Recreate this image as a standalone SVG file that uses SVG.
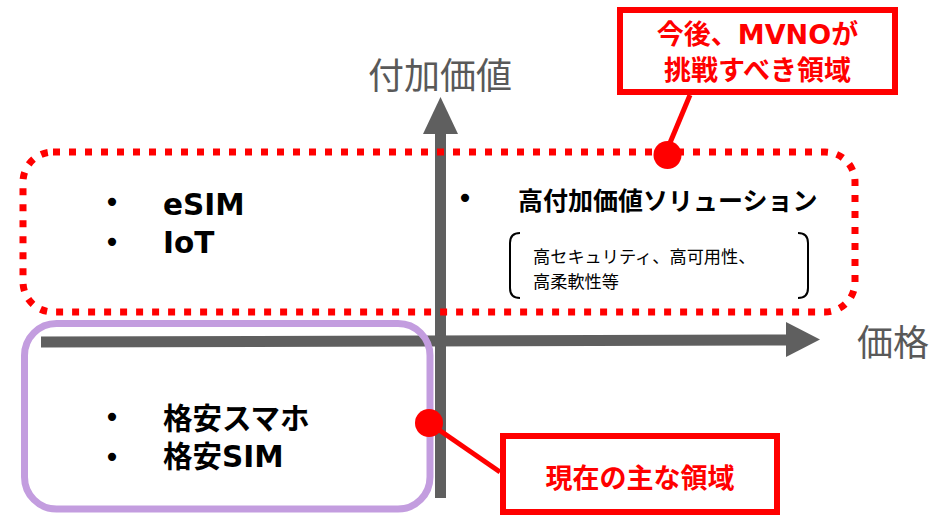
<svg xmlns="http://www.w3.org/2000/svg" width="942" height="516" viewBox="0 0 942 516">
<style>
.axis{stroke:#5f5f5f;stroke-width:11;fill:none}
.axlbl{font-family:"Noto Sans CJK JP","Noto Sans",sans-serif;font-size:36px;fill:#595959}
.bul{font-family:"DejaVu Sans","Noto Sans CJK JP",sans-serif;font-weight:bold;font-size:29.5px;fill:#000}
.dot{font-family:"DejaVu Sans",sans-serif;font-size:28px;fill:#000;text-anchor:middle}
.small{font-family:"Noto Sans CJK JP",sans-serif;font-size:17.2px;fill:#000}
.call{fill:#fff;stroke:#ff0000;stroke-width:6}
.calltxt{font-family:"DejaVu Sans","Noto Sans CJK JP",sans-serif;font-weight:bold;font-size:27px;fill:#ff0000;text-anchor:middle}
.lead{stroke:#ff0000;stroke-width:5;fill:none}
</style>
<rect width="942" height="516" fill="#fff"/>
<g id="axes">
<line class="axis" x1="440.5" y1="498" x2="440.5" y2="130"/>
<polygon points="440.5,97 423,134 458,134" fill="#5f5f5f"/>
<line class="axis" x1="41" y1="342" x2="790" y2="340"/>
<polygon points="820,339.5 786,322 786,357" fill="#5f5f5f"/>
<text class="axlbl" x="368" y="89">付加価値</text>
<text class="axlbl" x="857" y="356">価格</text>
</g>
<g id="current-area">
<rect x="24.5" y="323.5" width="405.5" height="185.5" rx="32" fill="none" stroke="#c39ddf" stroke-width="7"/>
<text class="dot" x="112" y="427">•</text>
<text class="bul" x="163" y="429">格安スマホ</text>
<text class="dot" x="112" y="467">•</text>
<text class="bul" x="163" y="467">格安SIM</text>
</g>
<g id="future-area">
<rect x="23" y="152" width="832" height="160" rx="30" fill="none" stroke="#ff0000" stroke-width="7" stroke-dasharray="7 9"/>
<text class="dot" x="112" y="212">•</text>
<text class="bul" x="163" y="215">eSIM</text>
<text class="dot" x="112" y="252">•</text>
<text class="bul" x="163" y="253">IoT</text>
<text class="dot" x="465" y="208">•</text>
<text class="bul" x="518" y="210" style="font-size:25px">高付加価値ソリューション</text>
<path d="M520 233 Q510 233 510 243 L510 288 Q510 298 520 298" fill="none" stroke="#000" stroke-width="2"/>
<path d="M798 233 Q808 233 808 243 L808 288 Q808 298 798 298" fill="none" stroke="#000" stroke-width="2"/>
<text class="small" x="533" y="263">高セキュリティ、高可用性、</text>
<text class="small" x="533" y="288">高柔軟性等</text>
</g>
<g id="connectors">
<line class="lead" x1="690" y1="95" x2="667" y2="150"/>
<circle cx="667.5" cy="155" r="14" fill="#ff0000"/>
<line class="lead" x1="429" y1="423" x2="500" y2="472"/>
<circle cx="429" cy="423" r="14" fill="#ff0000"/>
</g>
<g id="callout-future">
<rect class="call" x="620" y="10" width="275" height="82"/>
<text class="calltxt" x="757.5" y="44">今後、MVNOが</text>
<text class="calltxt" x="757.5" y="80">挑戦すべき領域</text>
</g>
<g id="callout-current">
<rect class="call" x="503" y="436" width="274" height="76"/>
<text class="calltxt" x="640" y="488">現在の主な領域</text>
</g>
</svg>
